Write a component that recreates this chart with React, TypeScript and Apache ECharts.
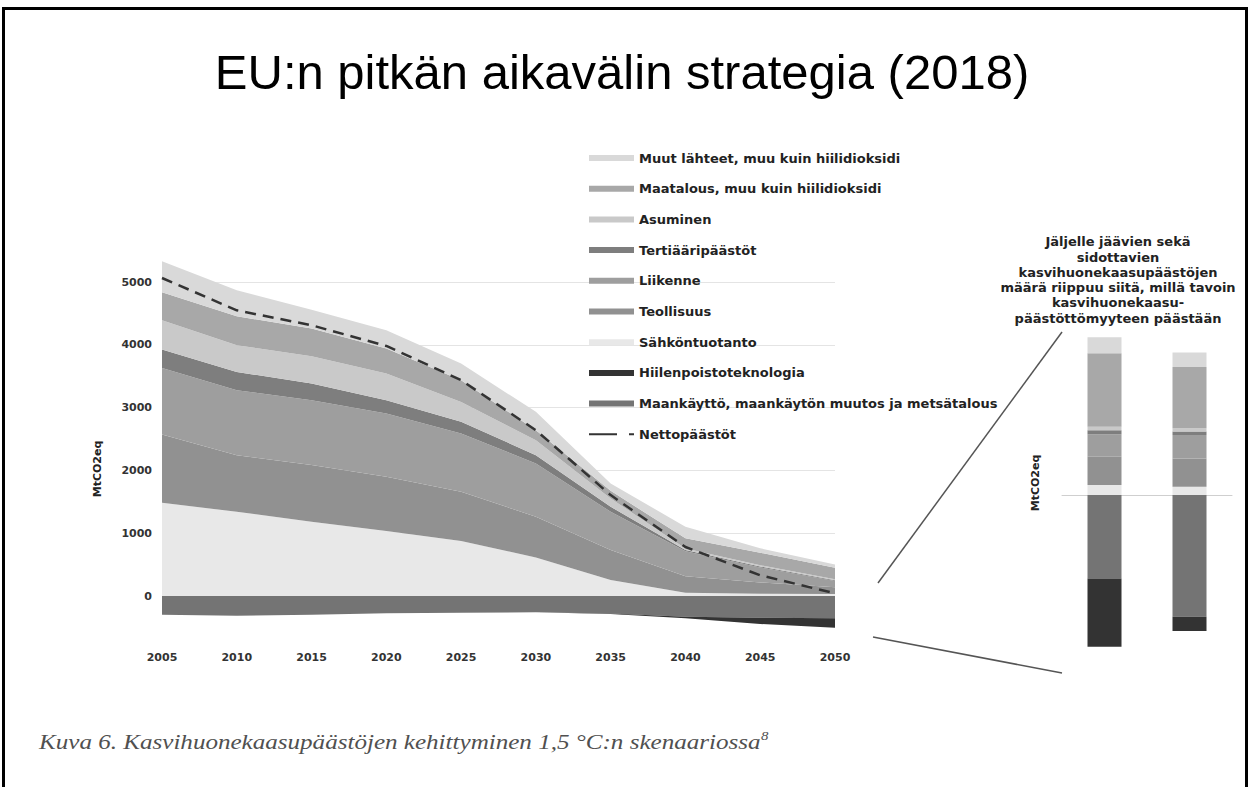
import React, { useEffect, useRef } from 'react';
import * as echarts from 'echarts';

// ---- Data (MtCO2eq) ----
const years = ['2005', '2010', '2015', '2020', '2025', '2030', '2035', '2040', '2045', '2050'];
const electricity = [1485, 1341, 1182, 1034, 875, 615, 255, 50, 35, 30];
const industry = [1087, 902, 902, 864, 785, 647, 477, 263, 180, 110];
const transport = [1060, 1034, 1034, 1008, 928, 848, 609, 400, 240, 100];
const tertiary = [292, 291, 265, 212, 185, 133, 80, 20, 15, 10];
const residential = [466, 425, 435, 424, 318, 238, 133, 25, 20, 15];
const agriculture = [446, 461, 440, 398, 345, 159, 120, 160, 200, 185];
const otherNonCO2 = [493, 413, 302, 291, 265, 292, 118, 185, 70, 50];
const landUse = [-300, -315, -300, -275, -265, -260, -280, -330, -345, -355];
const carbonRemoval = [0, 0, 0, 0, 0, 0, -5, -25, -100, -150];
const netEmissions = [5064, 4549, 4311, 3982, 3436, 2640, 1607, 780, 330, 42];
const gridValues = [1000, 2000, 3000, 4000, 5000];

// 2050 residual emissions / sinks in the two net-zero pathways (right panel)
const pathways = ['1,5TECH', '1,5LIFE'];
const barElectricity = [35, 29];
const barIndustry = [99, 99];
const barTransport = [79, 82];
const barTertiary = [14, 12];
const barResidential = [12, 12];
const barAgriculture = [257, 214];
const barOther = [56, 51];
const barLandUse = [-292, -426];
const barRemoval = [-239, -50];

const N_MUUT = 'Muut lähteet, muu kuin hiilidioksidi';
const N_MAAT = 'Maatalous, muu kuin hiilidioksidi';
const N_ASUM = 'Asuminen';
const N_TERT = 'Tertiääripäästöt';
const N_LIIK = 'Liikenne';
const N_TEOL = 'Teollisuus';
const N_SAHK = 'Sähköntuotanto';
const N_HIIL = 'Hiilenpoistoteknologia';
const N_MAAN = 'Maankäyttö, maankäytön muutos ja metsätalous';
const N_NETTO = 'Nettopäästöt';

const COLORS: Record<string, string> = {
  [N_MUUT]: '#d9d9d9',
  [N_MAAT]: '#a8a8a8',
  [N_ASUM]: '#c9c9c9',
  [N_TERT]: '#7e7e7e',
  [N_LIIK]: '#9e9e9e',
  [N_TEOL]: '#919191',
  [N_SAHK]: '#e8e8e8',
  [N_HIIL]: '#333333',
  [N_MAAN]: '#747474',
};

const BOLD = 'DejaVu Sans';

export default function App() {
  const ref = useRef<HTMLDivElement>(null);

  useEffect(() => {
    if (!ref.current) return;
    const chart = echarts.init(ref.current, null, { renderer: 'svg' });

    const positive: [string, number[]][] = [
      [N_SAHK, electricity],
      [N_TEOL, industry],
      [N_LIIK, transport],
      [N_TERT, tertiary],
      [N_ASUM, residential],
      [N_MAAT, agriculture],
      [N_MUUT, otherNonCO2],
    ];
    const negative: [string, number[]][] = [
      [N_MAAN, landUse],
      [N_HIIL, carbonRemoval],
    ];
    const barPos: [string, number[]][] = [
      [N_SAHK, barElectricity],
      [N_TEOL, barIndustry],
      [N_LIIK, barTransport],
      [N_TERT, barTertiary],
      [N_ASUM, barResidential],
      [N_MAAT, barAgriculture],
      [N_MUUT, barOther],
    ];
    const barNeg: [string, number[]][] = [
      [N_MAAN, barLandUse],
      [N_HIIL, barRemoval],
    ];

    const areaSeries = (stack: string) => ([name, data]: [string, number[]]) => ({
      type: 'line',
      name,
      stack,
      data,
      xAxisIndex: 0,
      yAxisIndex: 0,
      symbol: 'none',
      z: 2,
      color: COLORS[name],
      itemStyle: { color: COLORS[name] },
      lineStyle: { width: 0, color: COLORS[name] },
      areaStyle: { color: COLORS[name], opacity: 1 },
      emphasis: { disabled: true },
    });

    const barSeries = ([name, data]: [string, number[]]) => ({
      type: 'bar',
      name,
      stack: 'bars',
      data,
      xAxisIndex: 1,
      yAxisIndex: 1,
      barWidth: 34,
      itemStyle: { color: COLORS[name] },
      emphasis: { disabled: true },
    });

    const legendOrder = [N_MUUT, N_MAAT, N_ASUM, N_TERT, N_LIIK, N_TEOL, N_SAHK, N_HIIL, N_MAAN];

    const option: any = {
      animation: false,
      backgroundColor: '#ffffff',
      legend: {
        orient: 'vertical',
        left: 588,
        top: 150,
        padding: 0,
        itemWidth: 45,
        itemHeight: 6,
        itemGap: 14.7,
        selectedMode: false,
        textStyle: { fontFamily: BOLD, fontWeight: 'bold', fontSize: 13, color: '#222', lineHeight: 16 },
        data: [
          ...legendOrder.map((n) => ({ name: n, icon: 'rect' })),
          {
            name: N_NETTO,
            itemStyle: { opacity: 0 },
            lineStyle: { type: [28, 12], width: 2, color: '#333' },
          },
        ],
      },
      grid: [
        { left: 162, width: 673, top: 219.2, height: 439.6 },
        { left: 1062, width: 170, top: 283.6, height: 400 },
      ],
      xAxis: [
        {
          type: 'category',
          gridIndex: 0,
          data: years,
          boundaryGap: false,
          axisLine: { show: false, onZero: false },
          axisTick: { show: false },
          axisLabel: { margin: -7, fontFamily: BOLD, fontWeight: 'bold', fontSize: 11, color: '#333' },
          splitLine: { show: false },
        },
        {
          type: 'category',
          gridIndex: 1,
          data: pathways,
          axisLine: { show: true, onZero: true, lineStyle: { color: '#cfcfcf', width: 1 } },
          axisTick: { show: false },
          axisLabel: { show: false },
          splitLine: { show: false },
        },
      ],
      yAxis: [
        {
          type: 'value',
          gridIndex: 0,
          min: -1000,
          max: 6000,
          interval: 1000,
          axisLine: { show: false },
          axisTick: { show: false },
          splitLine: { show: false },
          axisLabel: {
            margin: 10,
            fontFamily: BOLD,
            fontWeight: 'bold',
            fontSize: 11,
            color: '#333',
            formatter: (v: number) => (v >= 0 && v <= 5000 ? String(v) : ''),
          },
        },
        {
          type: 'value',
          gridIndex: 1,
          min: -660,
          max: 740,
          show: false,
          splitLine: { show: false },
        },
      ],
      series: [
        {
          type: 'line',
          name: 'gridlines',
          xAxisIndex: 0,
          yAxisIndex: 0,
          data: [],
          z: 1,
          silent: true,
          markLine: {
            z: 1,
            silent: true,
            symbol: ['none', 'none'],
            label: { show: false },
            lineStyle: { color: '#e4e4e4', type: 'solid', width: 1 },
            data: gridValues.map((v) => ({ yAxis: v })),
          },
        },
        ...positive.map(areaSeries('pos')),
        ...negative.map(areaSeries('neg')),
        {
          type: 'line',
          name: N_NETTO,
          data: netEmissions,
          xAxisIndex: 0,
          yAxisIndex: 0,
          symbol: 'none',
          z: 5,
          color: '#333',
          lineStyle: { color: '#333', width: 2.5, type: [11, 7] },
          emphasis: { disabled: true },
        },
        ...barPos.map(barSeries),
        ...barNeg.map(barSeries),
      ],
      graphic: [
        {
          type: 'polyline',
          silent: true,
          shape: { points: [[3.5, 787], [3.5, 8.5], [1246.5, 8.5], [1246.5, 787]] },
          style: { stroke: '#000', lineWidth: 3, fill: null },
        },
        {
          type: 'text',
          x: 622,
          y: 72,
          style: {
            text: 'EU:n pitkän aikavälin strategia (2018)',
            font: '49px "Liberation Sans", Arial, sans-serif',
            fill: '#000',
            textAlign: 'center',
            textVerticalAlign: 'middle',
          },
        },
        {
          type: 'text',
          x: 97,
          y: 469,
          rotation: Math.PI / 2,
          style: {
            text: 'MtCO2eq',
            font: `bold 11px "${BOLD}"`,
            fill: '#222',
            textAlign: 'center',
            textVerticalAlign: 'middle',
          },
        },
        {
          type: 'text',
          x: 1035,
          y: 483,
          rotation: Math.PI / 2,
          style: {
            text: 'MtCO2eq',
            font: `bold 11px "${BOLD}"`,
            fill: '#222',
            textAlign: 'center',
            textVerticalAlign: 'middle',
          },
        },
        {
          type: 'text',
          x: 1118,
          y: 280,
          style: {
            text:
              'Jäljelle jäävien sekä\nsidottavien\nkasvihuonekaasupäästöjen\nmäärä riippuu siitä, millä tavoin\nkasvihuonekaasu-\npäästöttömyyteen päästään',
            font: `bold 13px "${BOLD}"`,
            lineHeight: 15.3,
            fill: '#222',
            textAlign: 'center',
            textVerticalAlign: 'middle',
          },
        },
        {
          type: 'line',
          silent: true,
          shape: { x1: 878, y1: 583, x2: 1062, y2: 332 },
          style: { stroke: '#555', lineWidth: 1.5 },
        },
        {
          type: 'line',
          silent: true,
          shape: { x1: 873, y1: 637, x2: 1062, y2: 673 },
          style: { stroke: '#555', lineWidth: 1.5 },
        },
        {
          type: 'text',
          x: 39,
          y: 742,
          scaleX: 1.14,
          style: {
            text: '{a|Kuva 6. Kasvihuonekaasupäästöjen kehittyminen 1,5 °C:n skenaariossa}{b|8}',
            textAlign: 'left',
            textVerticalAlign: 'middle',
            rich: {
              a: {
                fontFamily: '"Liberation Serif", "Times New Roman", serif',
                fontStyle: 'italic',
                fontSize: 22,
                fill: '#505050',
                color: '#505050',
                lineHeight: 26,
              },
              b: {
                fontFamily: '"Liberation Serif", "Times New Roman", serif',
                fontStyle: 'italic',
                fontSize: 13,
                fill: '#505050',
                color: '#505050',
                verticalAlign: 'top',
                lineHeight: 26,
                padding: [0, 0, 12, 0],
              },
            },
          },
        },
      ],
    };

    chart.setOption(option);
    return () => chart.dispose();
  }, []);

  return (
    <div
      ref={ref}
      style={{ position: 'fixed', left: 0, top: 0, width: 1250, height: 787, background: '#fff' }}
    />
  );
}
